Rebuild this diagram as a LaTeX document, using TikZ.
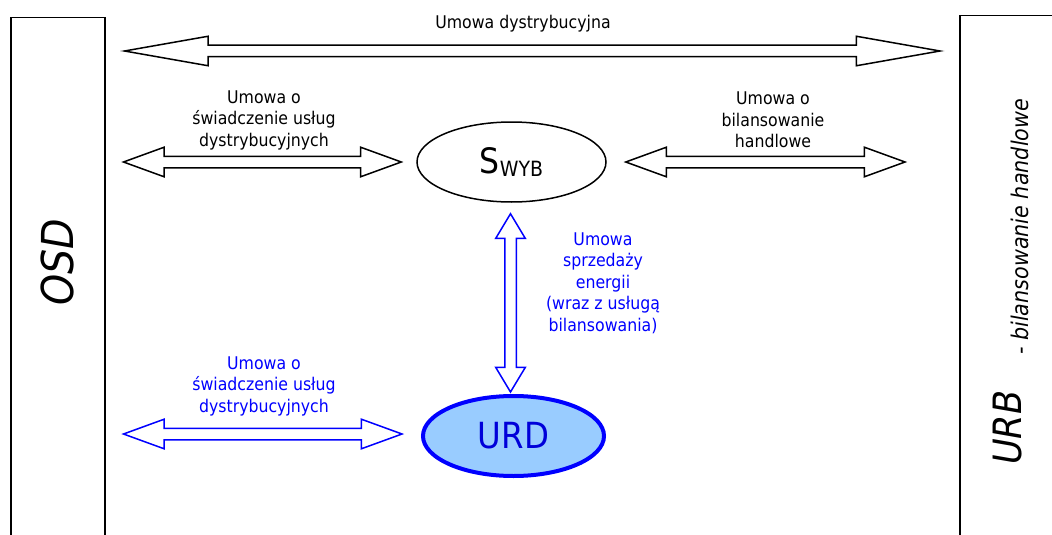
\documentclass[tikz,border=0pt]{standalone}
\usepackage{fontspec}
\setmainfont{DejaVu Sans Condensed}
\usetikzlibrary{shapes.geometric,shapes.arrows,positioning,calc}
\definecolor{urdfill}{RGB}{153,204,255}
\tikzstyle{party}=[rectangle, draw=black, line width=1.5pt, fill=white, inner sep=0pt, anchor=north west]
\tikzstyle{pact}=[double arrow, draw=black, line width=1.5pt, fill=white, inner sep=5pt, double arrow head extend=9pt, anchor=center]
\tikzstyle{annot}=[align=center, font=\fontsize{17.5}{21.5}\selectfont]
\tikzstyle{side}=[rotate=90, inner sep=0pt]
\newcommand{\pactarrow}[4]
{
  \path let \p1=($(#3)-(#2)$), \n1={veclen(\x1,\y1)}, \n2={atan2(\y1,\x1)} in
    node[pact, #1, minimum height=\n1, rotate=\n2] (#4) at ($(#2)!0.5!(#3)$) {};
}

\begin{document}
\begin{tikzpicture}[x=1pt, y=-1pt]
	\clip (0,0) rectangle (1052,535);
	\fill[white] (0,0) rectangle (1052,535);

	\node[party, minimum width=94pt, minimum height=560pt](osd) at (10,17){};
	\node[party, minimum width=140pt, minimum height=560pt](urb) at (959,15){};
	\node[side, font=\itshape\fontsize{44}{44}\selectfont](osdname) at (57,262){OSD};
	\node[side, anchor=base west](urbname) at (1021,465){{\itshape\fontsize{39}{39}\selectfont URB}\hspace*{36pt}\raisebox{-7pt}{\itshape\fontsize{23}{23}\selectfont - bilansowanie handlowe}};

	\node[ellipse, draw, line width=1.5pt, minimum width=189pt, minimum height=80pt, inner sep=0pt](swyb) at (511.5,162){{\fontsize{35}{35}\selectfont S}{\fontsize{21}{21}\selectfont\raisebox{-3pt}{WYB}}};
	\node[ellipse, draw=blue, line width=4pt, fill=urdfill, text=blue!85!black, minimum width=181pt, minimum height=80pt, inner sep=0pt](urd) at (513.5,436){\fontsize{36}{36}\selectfont URD};

	\coordinate (distA) at ($(osd.north east)+(19,34)$);
	\coordinate (distB) at ($(urb.north west)+(-19,36)$);
	\coordinate (osdA) at ($(osd.east |- swyb.west)+(18,0)$);
	\coordinate[left=15pt of swyb.west] (osdB);
	\coordinate[right=19pt of swyb.east] (bilA);
	\coordinate (bilB) at ($(urb.west |- swyb.east)+(-54,0)$);
	\coordinate (sprzA) at ($(swyb.south)+(-1,11)$);
	\coordinate (sprzB) at ($(urd.north)+(-3,-2)$);
	\coordinate (urdA) at ($(osd.east |- urd.west)+(18,-2)$);
	\coordinate (urdB) at ($(urd.west)+(-19,-2)$);

	\pactarrow{double arrow tip angle=20}{distA}{distB}{arrowDist}
	\pactarrow{double arrow tip angle=40}{osdA}{osdB}{arrowOsd}
	\pactarrow{double arrow tip angle=40}{bilA}{bilB}{arrowBil}
	\pactarrow{draw=blue, double arrow tip angle=62}{sprzA}{sprzB}{arrowSprz}
	\pactarrow{draw=blue, double arrow tip angle=40}{urdA}{urdB}{arrowUrd}

	\node[annot](lblDist) at (523,24){Umowa dystrybucyjna};
	\node[annot](lblOsd) at (264,120){Umowa o\\świadczenie usług\\dystrybucyjnych};
	\node[annot](lblBil) at (773,120){Umowa o\\bilansowanie\\handlowe};
	\node[annot, text=blue](lblSprz) at (603,283){Umowa\\sprzedaży\\energii\\(wraz z usługą\\bilansowania)};
	\node[annot, text=blue](lblUrd) at (264,386){Umowa o\\świadczenie usług\\dystrybucyjnych};

\end{tikzpicture}
\end{document}
